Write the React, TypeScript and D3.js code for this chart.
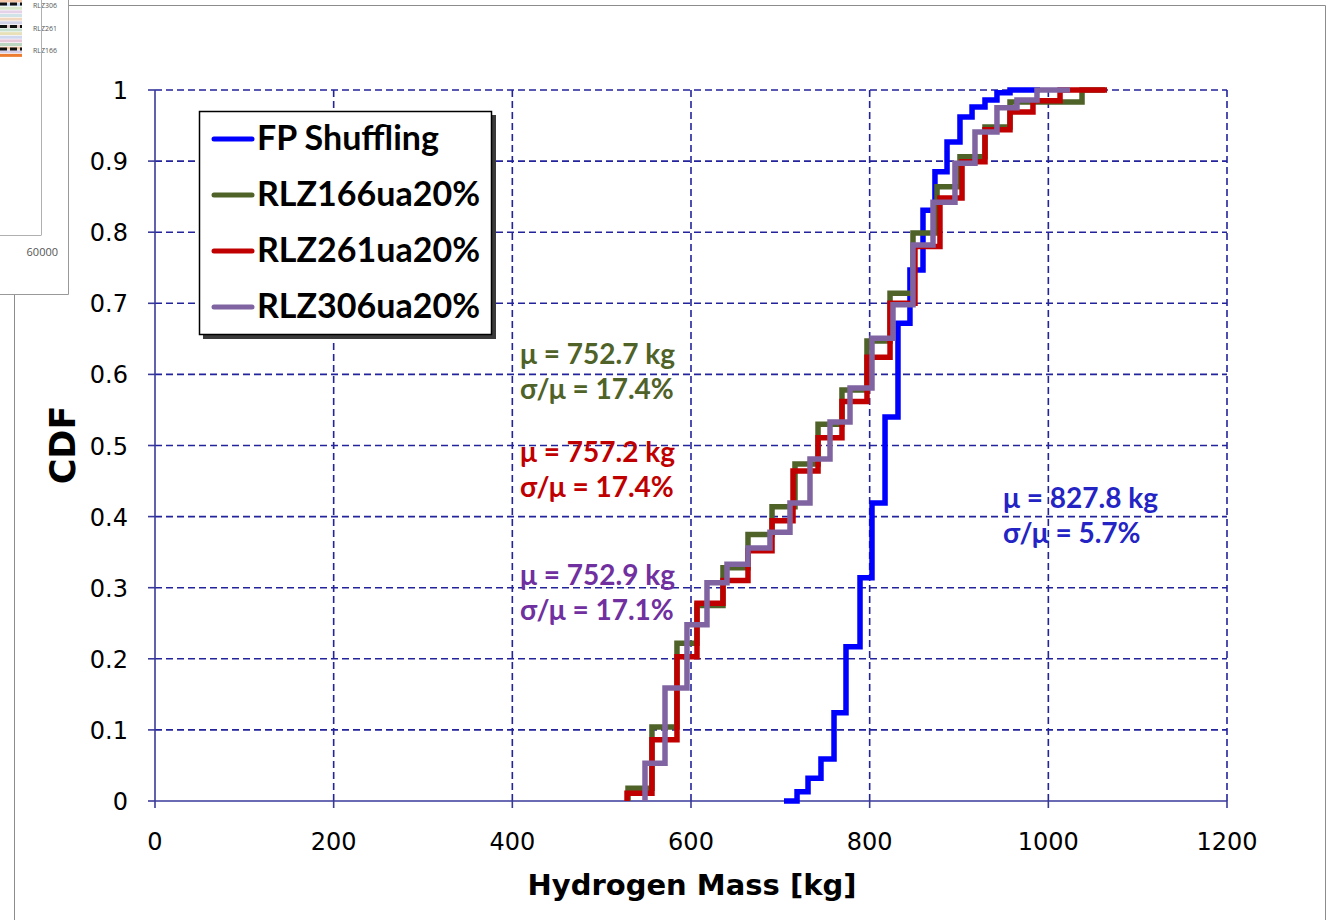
import React from "react";
import * as d3 from "d3";

// ---------- data ----------
const xTicks = [0, 200, 400, 600, 800, 1000, 1200];
const xTickLabels = ["0", "200", "400", "600", "800", "1000", "1200"];
const yTicks = [0, 0.1, 0.2, 0.3, 0.4, 0.5, 0.6, 0.7, 0.8, 0.9, 1];
const yTickLabels = ["0", "0.1", "0.2", "0.3", "0.4", "0.5", "0.6", "0.7", "0.8", "0.9", "1"];

const seriesNames = ["FP Shuffling", "RLZ166ua20%", "RLZ261ua20%", "RLZ306ua20%"];
const seriesColors = ["#0000ff", "#4f6228", "#c00000", "#8064a2"];

const fpMass = [704.1, 718.7, 731.0, 745.5, 760.1, 773.5, 789.2, 802.6, 817.2, 831.7, 845.1, 859.7, 873.1, 886.6, 901.1, 914.6, 929.1, 942.5, 957.1, 990.7];
const fpCdf = [0, 0.013, 0.032, 0.059, 0.124, 0.217, 0.314, 0.419, 0.54, 0.672, 0.747, 0.831, 0.885, 0.927, 0.962, 0.976, 0.986, 0.996, 1.0, 1.0];

const r166Mass = [529.5, 529.5, 556.3, 584.3, 606.7, 635.8, 663.8, 690.7, 716.4, 742.2, 769.0, 797.0, 822.8, 848.5, 875.4, 901.1, 929.1, 957.1, 1037.7, 1063.4];
const r166Cdf = [0, 0.018, 0.104, 0.222, 0.275, 0.328, 0.375, 0.414, 0.474, 0.53, 0.578, 0.647, 0.714, 0.799, 0.864, 0.906, 0.948, 0.983, 1.0, 1.0];

const r261Mass = [528.4, 528.4, 556.3, 584.3, 606.7, 635.8, 663.8, 690.7, 714.2, 742.2, 769.0, 797.0, 822.8, 850.7, 878.7, 903.4, 929.1, 957.1, 982.8, 1013.1, 1065.7];
const r261Cdf = [0, 0.011, 0.086, 0.203, 0.278, 0.31, 0.352, 0.394, 0.464, 0.511, 0.562, 0.624, 0.7, 0.78, 0.848, 0.899, 0.944, 0.969, 0.985, 1.0, 1.0];

const r306Mass = [548.5, 548.5, 570.9, 595.5, 617.9, 640.3, 663.8, 688.4, 710.8, 733.2, 755.6, 778.0, 802.6, 826.1, 848.5, 870.9, 895.5, 917.9, 942.5, 964.9, 987.3, 1024.3];
const r306Cdf = [0, 0.053, 0.159, 0.248, 0.307, 0.333, 0.356, 0.378, 0.419, 0.481, 0.533, 0.581, 0.651, 0.698, 0.782, 0.842, 0.897, 0.941, 0.975, 0.986, 1.0, 1.0];

const seriesMass = [fpMass, r166Mass, r261Mass, r306Mass];
const seriesCdf = [fpCdf, r166Cdf, r261Cdf, r306Cdf];

const annoMu = ["μ = 827.8 kg", "μ = 752.7 kg", "μ = 757.2 kg", "μ = 752.9 kg"];
const annoCv = ["σ/μ = 5.7%", "σ/μ = 17.4%", "σ/μ = 17.4%", "σ/μ = 17.1%"];
const annoColors = ["#2424c4", "#4f6228", "#c00000", "#7030a0"];

// leftover inset (overlapping chart fragment at top-left)
const insetStripeColors = ["#f4c7a8", "#c9d9ee", "#d8e8c8", "#e6d2e8", "#cfe3e8", "#f0d8c0", "#d3d3e8", "#e0c8c8", "#c8e0d0", "#e8e0b8", "#d0d8f0", "#e8c8d8", "#bcd6c2", "#f0c8a8", "#d8d0e8", "#ed7d31"];
const insetLabels = ["RLZ306", "RLZ261", "RLZ166"];
const insetAxisLabel = "60000";

export default function App() {
  const W = 1328;
  const H = 920;
  const x = d3.scaleLinear().domain([0, 1200]).range([155, 1227]);
  const y = d3.scaleLinear().domain([0, 1]).range([801, 90]);
  const gridColor = "#23239c";
  const tickFont = "'DejaVu Sans', Verdana, sans-serif";
  const labelFont = "Lato, 'Open Sans', sans-serif";
  const boldFont = "'DejaVu Sans', Verdana, sans-serif";

  const line = d3
    .line<[number, number]>()
    .x((d) => x(d[0]))
    .y((d) => y(d[1]))
    .curve(d3.curveStepAfter);

  const paths = seriesMass.map((m, i) => line(m.map((v, j) => [v, seriesCdf[i][j]] as [number, number])) || "");

  // inset scales
  const stripeY = d3.scaleBand<number>().domain(d3.range(insetStripeColors.length)).range([0, 58]);
  const insetLabelY = d3.scalePoint<number>().domain([0, 1, 2]).range([3, 48]);

  const annoPos = [
    { x: 1003, y: 508 },
    { x: 520, y: 364 },
    { x: 520, y: 462 },
    { x: 520, y: 585 },
  ];

  return (
    <div style={{ position: "absolute", left: 0, top: 0 }}>
      <svg width={W} height={H} viewBox={`0 0 ${W} ${H}`} style={{ display: "block", background: "#fff" }}>
        <rect x={0} y={0} width={W} height={H} fill="#ffffff" />
        {/* outer frame */}
        <line x1={68} y1={5.5} x2={1325.5} y2={5.5} stroke="#8c8c8c" strokeWidth={1} />
        <line x1={1325.5} y1={5.5} x2={1325.5} y2={H} stroke="#8c8c8c" strokeWidth={1} />
        <line x1={14.5} y1={294} x2={14.5} y2={H} stroke="#8c8c8c" strokeWidth={1} />

        {/* inset fragment */}
        <g>
          <rect x={0} y={0} width={68} height={294} fill="#fff" />
          {insetStripeColors.map((c, i) => (
            <line key={i} x1={0} x2={22} y1={(stripeY(i) || 0) + 1} y2={(stripeY(i) || 0) + 1} stroke={c} strokeWidth={3} />
          ))}
          {insetLabels.map((t, i) => (
            <g key={t}>
              <line x1={0} x2={22} y1={insetLabelY(i)! + 1} y2={insetLabelY(i)! + 1} stroke="#111" strokeWidth={3} strokeDasharray="7,3" />
              <text x={33} y={insetLabelY(i)! + 5} fontSize={7} fill="#555" fontFamily="'Open Sans', sans-serif">
                {t}
              </text>
            </g>
          ))}
          <line x1={41.5} y1={0} x2={41.5} y2={235} stroke="#b0b0b0" strokeWidth={1} />
          <line x1={0} y1={235.5} x2={41.5} y2={235.5} stroke="#b0b0b0" strokeWidth={1} />
          <text x={58} y={256} fontSize={11} fill="#555" textAnchor="end" fontFamily="'Open Sans', sans-serif">
            {insetAxisLabel}
          </text>
          <line x1={68.5} y1={0} x2={68.5} y2={294.5} stroke="#999" strokeWidth={1} />
          <line x1={0} y1={294.5} x2={68.5} y2={294.5} stroke="#999" strokeWidth={1} />
        </g>

        {/* gridlines */}
        {yTicks.slice(1).map((t) => (
          <line key={"gy" + t} x1={x(0)} x2={x(1200)} y1={y(t)} y2={y(t)} stroke={gridColor} strokeWidth={1.6} strokeDasharray="7,4" />
        ))}
        {xTicks.slice(1).map((t) => (
          <line key={"gx" + t} x1={x(t)} x2={x(t)} y1={y(0)} y2={y(1)} stroke={gridColor} strokeWidth={1.6} strokeDasharray="7,4" />
        ))}

        {/* axes */}
        <line x1={x(0)} x2={x(1200)} y1={y(0)} y2={y(0)} stroke="#3a3a9a" strokeWidth={1.6} />
        <line x1={x(0)} x2={x(0)} y1={y(0)} y2={y(1)} stroke="#3a3a9a" strokeWidth={1.6} />
        {xTicks.map((t) => (
          <line key={"tx" + t} x1={x(t)} x2={x(t)} y1={y(0)} y2={y(0) + 7} stroke="#3a3a9a" strokeWidth={1.6} />
        ))}
        {yTicks.map((t) => (
          <line key={"ty" + t} x1={x(0) - 7} x2={x(0)} y1={y(t)} y2={y(t)} stroke="#3a3a9a" strokeWidth={1.6} />
        ))}

        {/* tick labels */}
        {xTicks.map((t, i) => (
          <text key={"lx" + t} x={x(t)} y={850} fontSize={24} textAnchor="middle" fontFamily={tickFont} fill="#000">
            {xTickLabels[i]}
          </text>
        ))}
        {yTicks.map((t, i) => (
          <text key={"ly" + t} x={128} y={y(t) + 9} fontSize={24} textAnchor="end" fontFamily={tickFont} fill="#000">
            {yTickLabels[i]}
          </text>
        ))}

        {/* axis titles */}
        <text x={692} y={895} fontSize={29} fontWeight="bold" textAnchor="middle" fontFamily={boldFont} fill="#000">
          Hydrogen Mass [kg]
        </text>
        <text transform="translate(75,445) rotate(-90)" fontSize={35} fontWeight="bold" textAnchor="middle" fontFamily={boldFont} fill="#000">
          CDF
        </text>

        {/* series */}
        {paths.map((d, i) => (
          <path key={"s" + i} d={d} fill="none" stroke={seriesColors[i]} strokeWidth={5.5} strokeLinejoin="miter" />
        ))}

        {/* annotations */}
        {annoMu.map((t, i) => (
          <g key={"a" + i} fill={annoColors[i]} fontFamily={labelFont} fontWeight="bold" fontSize={28}>
            <text x={annoPos[i].x} y={annoPos[i].y}>{t}</text>
            <text x={annoPos[i].x} y={annoPos[i].y + 35}>{annoCv[i]}</text>
          </g>
        ))}

        {/* legend */}
        <g>
          <rect x={203} y={115} width={293} height={224} fill="#3a3a3a" />
          <rect x={199.5} y={111.5} width={292} height={223} fill="#fff" stroke="#000" strokeWidth={1.5} />
          {seriesNames.map((n, i) => {
            const ly = 139 + i * 56;
            return (
              <g key={n}>
                <line x1={214} x2={252} y1={ly} y2={ly} stroke={seriesColors[i]} strokeWidth={5} strokeLinecap="round" />
                <text x={257} y={ly + 11} fontSize={34} fontWeight="bold" fontFamily={labelFont} fill="#000">
                  {n}
                </text>
              </g>
            );
          })}
        </g>
      </svg>
    </div>
  );
}
